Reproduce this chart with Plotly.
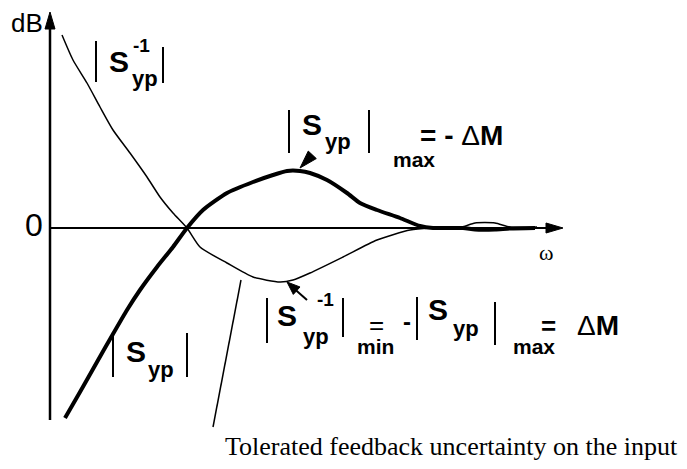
import plotly.graph_objects as go

# |S_yp^-1| magnitude (dB) versus frequency (arbitrary ω units)
omega_inv = [1.2, 2.3, 3.7, 5.0, 6.3, 8.0, 9.7, 11.0, 12.3, 13.7, 15.0, 17.7, 20.3,
             23.0, 24.3, 26.0, 29.3, 32.7, 36.0, 38.0, 41.0, 42.5, 44.5, 46.0, 48.7]
mag_inv_db = [19.3, 16.8, 14.5, 12.1, 9.8, 7.5, 5.1, 3.1, 1.5, 0.0, -1.9, -3.5, -4.9,
              -5.4, -5.2, -4.5, -2.9, -1.2, -0.2, 0.0, 0.05, 0.5, 0.5, 0.1, 0.1]

# |S_yp| magnitude (dB) versus frequency
omega_s = [1.5, 3.0, 4.7, 6.3, 7.7, 9.0, 10.7, 12.3, 13.7, 15.3, 17.7, 20.3, 22.3, 23.7,
           25.0, 26.0, 27.7, 29.7, 31.0, 32.7, 35.0, 37.0, 38.3, 41.3, 42.5, 44.5, 46.0, 48.5]
mag_s_db = [-19.0, -16.4, -13.4, -10.6, -8.2, -6.2, -3.9, -1.9, 0.0, 1.8, 3.5, 4.6, 5.3, 5.7,
            5.7, 5.5, 4.8, 3.5, 2.5, 1.8, 1.0, 0.2, 0.0, 0.0, -0.15, -0.15, -0.05, 0.0]

W, H = 687, 469
X0, Y0 = 50, 228          # page position of the origin
SCALE = 10.0              # pixels per unit on both axes
XR = [-X0 / SCALE, (W - X0) / SCALE]
YR = [(Y0 - H) / SCALE, Y0 / SCALE]


def P(px, py):
    """Page position -> data coordinates."""
    return (px - X0) / SCALE, (Y0 - py) / SCALE


SANS = "Liberation Sans, Arial, sans-serif"
SERIF = "Liberation Serif, Times New Roman, serif"

fig = go.Figure()
fig.add_trace(go.Scatter(x=omega_inv, y=mag_inv_db, mode="lines",
                         line=dict(color="black", width=1.5, shape="spline", smoothing=0.6),
                         hoverinfo="skip", showlegend=False))
fig.add_trace(go.Scatter(x=omega_s, y=mag_s_db, mode="lines",
                         line=dict(color="black", width=4, shape="spline", smoothing=0.6),
                         hoverinfo="skip", showlegend=False))

shapes = []


def line(a, b, width=2):
    shapes.append(dict(type="line", xref="x", yref="y", x0=a[0], y0=a[1], x1=b[0], y1=b[1],
                       line=dict(color="black", width=width), layer="above"))


def head(tip, tail, length, half):
    tx, ty = tip
    dx, dy = tip[0] - tail[0], tip[1] - tail[1]
    n = (dx * dx + dy * dy) ** 0.5
    ux, uy = dx / n, dy / n
    bx, by = tx - ux * length, ty - uy * length
    px_, py_ = -uy * half, ux * half
    path = (f"M{tx},{ty} L{bx + px_},{by + py_} L{bx - px_},{by - py_} Z")
    shapes.append(dict(type="path", xref="x", yref="y", path=path,
                       fillcolor="black", line=dict(color="black", width=1), layer="above"))


# axes with arrowheads
line(P(50, 228), P(548, 228), 2)
head(P(563, 228), P(50, 228), 1.7, 0.5)
line(P(50, 420), P(50, 28), 2.5)
head(P(50, 12), P(50, 420), 1.7, 0.5)

# pointers
head(P(300, 168), P(314, 153), 1.8, 0.55)
line(P(307, 300), P(290, 285), 2)
head(P(287, 282), P(307, 300), 1.3, 0.5)
line(P(241, 280), P(213, 427), 1.5)

# absolute-value bars
for bx, y1, y2 in [(96, 41, 82), (163, 47, 83),
                   (289, 110, 153), (369, 110, 153),
                   (267, 298, 343), (343, 298, 337), (417, 297, 340), (495, 302, 345),
                   (113, 335, 377), (187, 333, 377)]:
    line(P(bx, y1), P(bx, y2), 2)

annotations = []


def text(px, py, s, size, family=SANS, anchor="center"):
    x, y = P(px, py)
    annotations.append(dict(x=x, y=y, xref="x", yref="y", text=s, showarrow=False,
                            xanchor=anchor, yanchor="middle", borderpad=0,
                            font=dict(family=family, size=size, color="black")))


# |S_yp^-1|
text(119, 61, "<b>S</b>", 30)
text(141, 45, "<b>-1</b>", 19)
text(145, 78, "<b>yp</b>", 22)

# |S_yp|_max = -ΔM
text(312, 124, "<b>S</b>", 30)
text(338, 141, "<b>yp</b>", 22)
text(414, 159, "<b>max</b>", 21)
text(419, 135, "<b>= - </b>Δ<b>M</b>", 28, anchor="left")

# |S_yp^-1|_min = -|S_yp|_max = ΔM
text(287, 315, "<b>S</b>", 30)
text(325, 299, "<b>-1</b>", 19)
text(316, 336, "<b>yp</b>", 22)
text(376, 325, "=", 26)
text(375, 346, "<b>min</b>", 21)
text(407, 321, "<b>-</b>", 24)
text(438, 309, "<b>S</b>", 30)
text(466, 328, "<b>yp</b>", 22)
text(548, 326, "<b>=</b>", 26)
text(534, 346, "<b>max</b>", 21)
text(576, 325, "Δ<b>M</b>", 28, anchor="left")

# |S_yp|
text(136, 351, "<b>S</b>", 30)
text(161, 369, "<b>yp</b>", 22)

# axis labels
text(27, 23, "dB", 26)
text(34, 225, "0", 32)
text(546, 252, "ω", 22, family=SERIF)
text(451, 446, "Tolerated feedback uncertainty on the input", 26, family=SERIF)

fig.update_layout(
    width=W, height=H, margin=dict(l=0, r=0, t=0, b=0),
    paper_bgcolor="white", plot_bgcolor="white",
    xaxis=dict(range=XR, visible=False, fixedrange=True),
    yaxis=dict(range=YR, visible=False, fixedrange=True),
    shapes=shapes, annotations=annotations, showlegend=False,
)
fig.write_html("out.html")
